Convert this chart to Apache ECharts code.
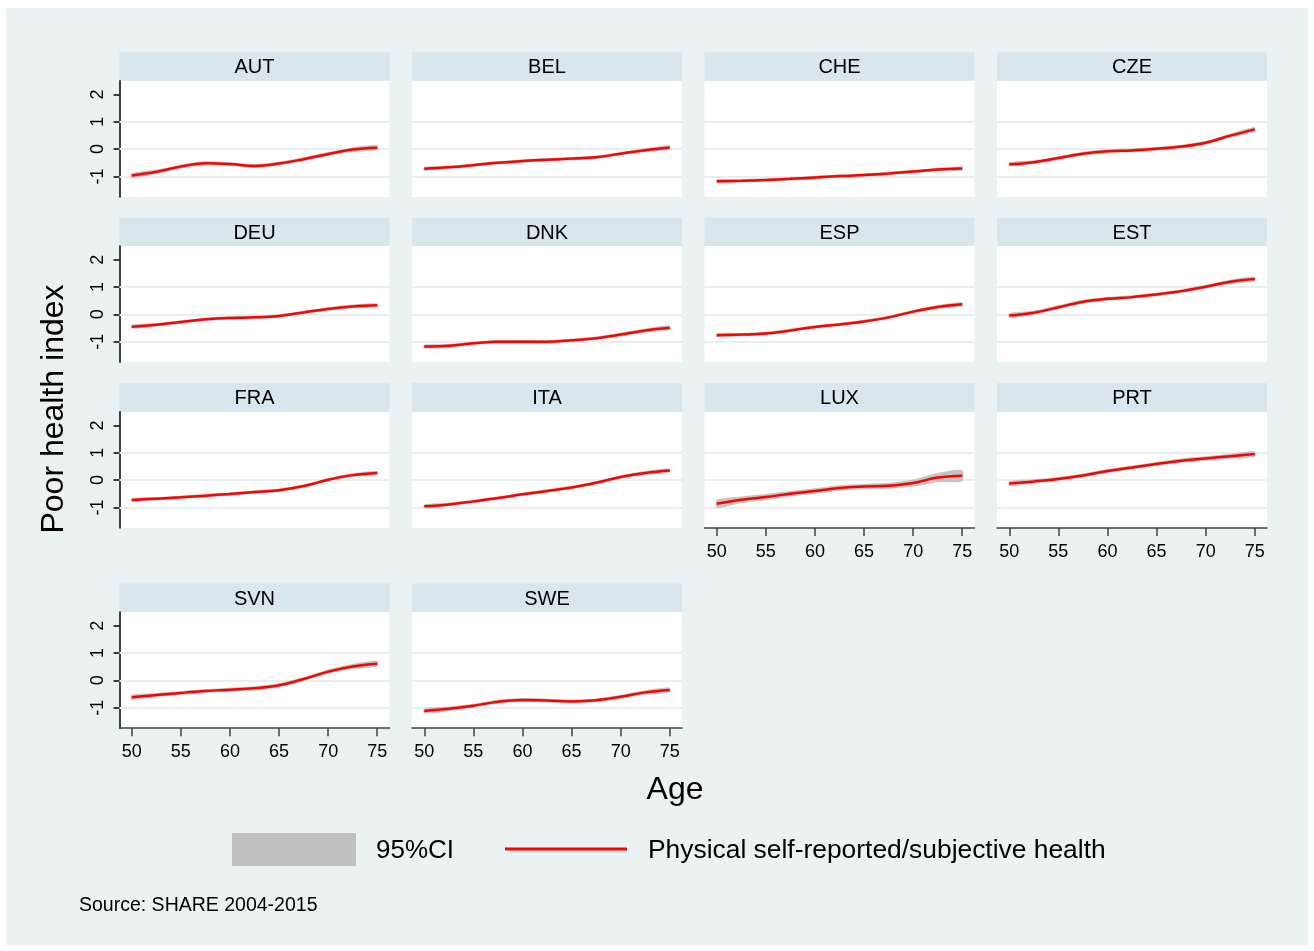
<!DOCTYPE html>
<html>
<head>
<meta charset="utf-8">
<script src="https://cdn.jsdelivr.net/npm/echarts@6/dist/echarts.min.js"></script>
<style>
  body { margin: 0; background: #fff; }
  #bg { position: absolute; left: 6px; top: 8px; width: 1302px; height: 937px; background: #eaf2f3; }
  #chart { position: absolute; left: 0; top: 0; width: 1314px; height: 951px; }
</style>
</head>
<body>
<div id="bg"></div>
<div id="chart"></div>
<script>
const ages = [50, 52.5, 55, 57.5, 60, 62.5, 65, 67.5, 70, 72.5, 75];
const xTicks = [50, 55, 60, 65, 70, 75];
const yTicks = [-1, 0, 1, 2];
const gridVals = [-1, 0, 1];

const countries = ['AUT', 'BEL', 'CHE', 'CZE', 'DEU', 'DNK', 'ESP', 'EST', 'FRA', 'ITA', 'LUX', 'PRT', 'SVN', 'SWE'];

// poor health index (point estimate)
const AUT = [-0.97, -0.83, -0.64, -0.52, -0.55, -0.62, -0.53, -0.37, -0.18, -0.02, 0.05];
const BEL = [-0.72, -0.67, -0.59, -0.50, -0.44, -0.39, -0.35, -0.30, -0.17, -0.04, 0.06];
const CHE = [-1.18, -1.16, -1.13, -1.09, -1.04, -0.99, -0.95, -0.89, -0.82, -0.75, -0.71];
const CZE = [-0.56, -0.48, -0.33, -0.17, -0.08, -0.05, 0.01, 0.09, 0.23, 0.49, 0.72];
const DEU = [-0.45, -0.38, -0.28, -0.18, -0.13, -0.11, -0.06, 0.07, 0.20, 0.29, 0.33];
const DNK = [-1.18, -1.15, -1.06, -1.00, -1.00, -1.00, -0.95, -0.87, -0.74, -0.59, -0.49];
const ESP = [-0.76, -0.74, -0.70, -0.59, -0.46, -0.37, -0.26, -0.11, 0.10, 0.27, 0.37];
const EST = [-0.04, 0.06, 0.26, 0.46, 0.57, 0.63, 0.73, 0.85, 1.01, 1.19, 1.29];
const FRA = [-0.73, -0.68, -0.63, -0.57, -0.51, -0.44, -0.37, -0.22, 0.01, 0.18, 0.26];
const ITA = [-0.96, -0.89, -0.78, -0.66, -0.52, -0.40, -0.27, -0.10, 0.11, 0.26, 0.35];
const LUX = [-0.87, -0.72, -0.62, -0.50, -0.40, -0.29, -0.24, -0.21, -0.11, 0.09, 0.16];
const PRT = [-0.13, -0.05, 0.04, 0.17, 0.33, 0.46, 0.59, 0.71, 0.79, 0.87, 0.95];
const SVN = [-0.62, -0.54, -0.46, -0.39, -0.34, -0.29, -0.18, 0.05, 0.32, 0.51, 0.61];
const SWE = [-1.12, -1.04, -0.93, -0.78, -0.72, -0.74, -0.77, -0.73, -0.60, -0.44, -0.35];

// 95% CI half widths
const AUT_ci = [0.09, 0.08, 0.07, 0.07, 0.07, 0.07, 0.07, 0.07, 0.07, 0.08, 0.09];
const BEL_ci = [0.07, 0.06, 0.06, 0.06, 0.06, 0.06, 0.06, 0.06, 0.06, 0.07, 0.08];
const CHE_ci = [0.07, 0.06, 0.06, 0.06, 0.06, 0.06, 0.06, 0.06, 0.06, 0.06, 0.07];
const CZE_ci = [0.08, 0.07, 0.07, 0.07, 0.07, 0.07, 0.07, 0.07, 0.07, 0.08, 0.09];
const DEU_ci = [0.07, 0.06, 0.06, 0.06, 0.06, 0.06, 0.06, 0.06, 0.06, 0.07, 0.07];
const DNK_ci = [0.07, 0.07, 0.06, 0.06, 0.06, 0.06, 0.06, 0.06, 0.07, 0.07, 0.08];
const ESP_ci = [0.07, 0.06, 0.06, 0.06, 0.06, 0.06, 0.06, 0.06, 0.06, 0.07, 0.07];
const EST_ci = [0.08, 0.07, 0.07, 0.07, 0.07, 0.07, 0.07, 0.07, 0.07, 0.08, 0.08];
const FRA_ci = [0.07, 0.06, 0.06, 0.06, 0.06, 0.06, 0.06, 0.06, 0.06, 0.07, 0.07];
const ITA_ci = [0.07, 0.06, 0.06, 0.06, 0.06, 0.06, 0.06, 0.06, 0.06, 0.07, 0.07];
const LUX_ci = [0.15, 0.12, 0.11, 0.10, 0.10, 0.10, 0.10, 0.11, 0.13, 0.17, 0.20];
const PRT_ci = [0.09, 0.08, 0.07, 0.07, 0.07, 0.07, 0.07, 0.08, 0.08, 0.09, 0.10];
const SVN_ci = [0.09, 0.08, 0.07, 0.07, 0.07, 0.07, 0.07, 0.07, 0.08, 0.09, 0.10];
const SWE_ci = [0.09, 0.08, 0.07, 0.07, 0.07, 0.07, 0.07, 0.07, 0.07, 0.08, 0.09];

const estimates = [AUT, BEL, CHE, CZE, DEU, DNK, ESP, EST, FRA, ITA, LUX, PRT, SVN, SWE];
const halfWidths = [AUT_ci, BEL_ci, CHE_ci, CZE_ci, DEU_ci, DNK_ci, ESP_ci, EST_ci, FRA_ci, ITA_ci, LUX_ci, PRT_ci, SVN_ci, SWE_ci];

const FONT = 'Liberation Sans, Arial, Helvetica, sans-serif';
const colLeft = [119.5, 412, 704.5, 997];
const rowTop = [80.7, 246, 411.7, 612];
const W = 270, H = 116.2, HEAD = 28.5;
const withXAxis = ['LUX', 'PRT', 'SVN', 'SWE'];

let grids = [], xAxes = [], yAxes = [], series = [], graphics = [];

// band polygon: upper edge left->right, lower edge right->left
function bandRenderer(rows) {
    return function (params, api) {
        if (params.dataIndex !== 0) return;
        const up = [], lo = [];
        rows.forEach(function (r) {
            up.push(api.coord([r[0], r[2]]));
            lo.unshift(api.coord([r[0], r[1]]));
        });
        return {
            type: 'polygon',
            shape: { points: up.concat(lo), smooth: 0.25 },
            style: { fill: '#c4c4c4' },
            silent: true
        };
    };
}

countries.forEach(function (c, i) {
    const row = Math.floor(i / 4), col = i % 4;
    const left = colLeft[col], top = rowTop[row];
    const showX = withXAxis.indexOf(c) >= 0;
    const showY = col === 0;

    grids.push({
        left: left, top: top, width: W, height: H,
        show: true, backgroundColor: '#fff', borderWidth: 0,
        outerBoundsMode: 'none'
    });
    xAxes.push({
        gridIndex: i, type: 'value', min: 48.75, max: 76.25,
        axisLine: { show: showX, onZero: false, lineStyle: { color: '#444', width: 1.5 } },
        axisTick: { show: showX, length: 8, customValues: xTicks, lineStyle: { color: '#444', width: 1.5 } },
        axisLabel: { show: showX, customValues: xTicks, margin: 15, fontSize: 18, color: '#000', fontFamily: FONT },
        splitLine: { show: false }
    });
    yAxes.push({
        gridIndex: i, type: 'value', min: -1.75, max: 2.5,
        axisLine: { show: showY, onZero: false, lineStyle: { color: '#000', width: 1.5 } },
        axisTick: { show: showY, length: 6, customValues: yTicks, lineStyle: { color: '#000', width: 1.5 } },
        axisLabel: { show: showY, customValues: yTicks, rotate: 90, margin: 12, fontSize: 18, color: '#000', fontFamily: FONT },
        splitLine: { show: false }
    });

    const est = estimates[i], hw = halfWidths[i];
    const bandRows = ages.map(function (a, k) { return [a, est[k] - hw[k], est[k] + hw[k]]; });

    // gridlines (kept under the band and the line)
    series.push({
        type: 'line', xAxisIndex: i, yAxisIndex: i, data: [], z: 1, silent: true,
        markLine: {
            z: 1, silent: true, symbol: 'none', label: { show: false },
            lineStyle: { color: '#e8eff2', width: 2, type: 'solid' },
            data: gridVals.map(function (v) { return { yAxis: v }; })
        }
    });
    // 95% CI band
    series.push({
        type: 'custom', xAxisIndex: i, yAxisIndex: i, z: 2, silent: true,
        data: bandRows,
        encode: { x: 0, y: [1, 2] },
        renderItem: bandRenderer(bandRows)
    });
    // estimate
    series.push({
        type: 'line', xAxisIndex: i, yAxisIndex: i,
        data: ages.map(function (a, k) { return [a, est[k]]; }),
        smooth: 0.4, symbol: 'none', lineStyle: { color: '#ff0000', width: 2.5 }, z: 3, silent: true
    });

    // panel header strip
    graphics.push({
        type: 'rect', shape: { x: left, y: top - HEAD, width: W, height: HEAD },
        style: { fill: '#d9e6eb' }, silent: true
    });
    graphics.push({
        type: 'text', x: left + W / 2, y: top - HEAD / 2 + 1.5,
        style: { text: c, fontSize: 20, fontFamily: FONT, fill: '#000', align: 'center', verticalAlign: 'middle' },
        silent: true
    });
});

// axis titles, legend, note
graphics.push({
    type: 'text', x: 54, y: 409, rotation: Math.PI / 2,
    style: { text: 'Poor health index', fontSize: 32, fontFamily: FONT, fill: '#000', align: 'center', verticalAlign: 'middle' }
});
graphics.push({
    type: 'text', x: 675, y: 790,
    style: { text: 'Age', fontSize: 32, fontFamily: FONT, fill: '#000', align: 'center', verticalAlign: 'middle' }
});
graphics.push({ type: 'rect', shape: { x: 232, y: 833, width: 124, height: 33 }, style: { fill: '#c0c0c0' } });
graphics.push({
    type: 'text', x: 376, y: 851,
    style: { text: '95%CI', fontSize: 26, fontFamily: FONT, fill: '#000', align: 'left', verticalAlign: 'middle' }
});
graphics.push({ type: 'line', shape: { x1: 505, y1: 849, x2: 627, y2: 849 }, style: { stroke: '#ff0000', lineWidth: 3 } });
graphics.push({
    type: 'text', x: 648, y: 851,
    style: { text: 'Physical self-reported/subjective health', fontSize: 26.4, fontFamily: FONT, fill: '#000', align: 'left', verticalAlign: 'middle' }
});
graphics.push({
    type: 'text', x: 79, y: 906,
    style: { text: 'Source: SHARE 2004-2015', fontSize: 19.5, fontFamily: FONT, fill: '#000', align: 'left', verticalAlign: 'middle' }
});

const chart = echarts.init(document.getElementById('chart'));
chart.setOption({
    backgroundColor: 'transparent',
    animation: false,
    textStyle: { fontFamily: FONT },
    grid: grids,
    xAxis: xAxes,
    yAxis: yAxes,
    series: series,
    graphic: graphics
});
</script>
</body>
</html>
